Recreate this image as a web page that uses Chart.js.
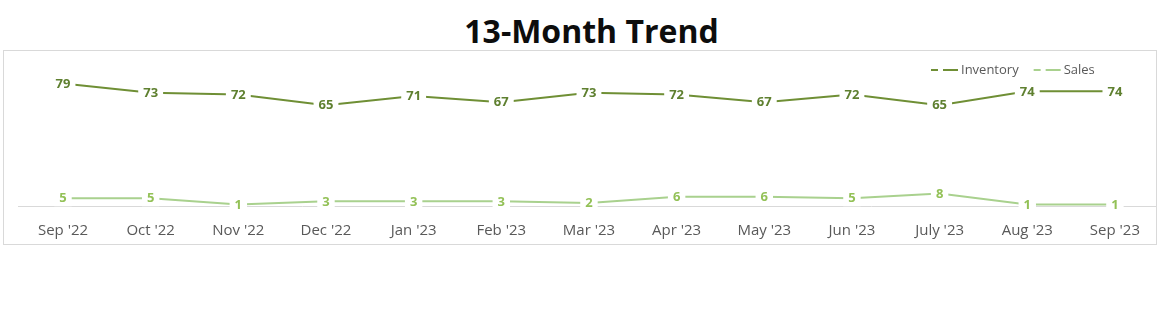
<!DOCTYPE html>
<html>
<head>
<meta charset="utf-8">
<script src="https://cdn.jsdelivr.net/npm/chart.js@4.4.0/dist/chart.umd.min.js"></script>
<style>
  html, body { margin: 0; padding: 0; background: #fff; }
  body { width: 1157px; height: 321px; position: relative; overflow: hidden; }
  #title {
    position: absolute; left: 26px; width: 1131px; top: 11px;
    text-align: center; font-family: "Open Sans", sans-serif; font-weight: 700;
    font-size: 32px; line-height: 40px; color: #0d0d0d;
  }
  #box {
    position: absolute; left: 3px; top: 50px; width: 1152px; height: 193px;
    border: 1px solid #d9d9d9; overflow: hidden;
  }
</style>
</head>
<body>
<div id="title">13-Month Trend</div>
<div id="box"><canvas id="c" width="1152" height="205"></canvas></div>
<script>
// month labels along the bottom
const months = ["Sep '22", "Oct '22", "Nov '22", "Dec '22", "Jan '23", "Feb '23", "Mar '23",
  "Apr '23", "May '23", "Jun '23", "July '23", "Aug '23", "Sep '23"];
const inventory = [79, 73, 72, 65, 71, 67, 73, 72, 67, 72, 65, 74, 74];
const sales = [5, 5, 1, 3, 3, 3, 2, 6, 6, 5, 8, 1, 1];

const FONT = "'Open Sans', sans-serif";
const INV = "#6f8f35";
const INV_LBL = "#5f8030";
const SAL = "#a9d18e";
const SAL_LBL = "#93c157";

// Excel-style value labels: text on a white patch that breaks the line
const valueLabels = {
  id: "valueLabels",
  afterDatasetsDraw(chart) {
    const ctx = chart.ctx;
    ctx.save();
    ctx.font = "700 13px " + FONT;
    ctx.textAlign = "center";
    ctx.textBaseline = "middle";
    chart.data.datasets.forEach((ds, i) => {
      chart.getDatasetMeta(i).data.forEach((pt, j) => {
        const txt = String(ds.data[j]);
        const w = ctx.measureText(txt).width + 10;
        ctx.fillStyle = "#fff";
        ctx.fillRect(pt.x - w / 2, pt.y - 8, w, 16);
        ctx.fillStyle = ds.labelColor;
        ctx.fillText(txt, pt.x, pt.y + 0.5);
      });
    });
    ctx.restore();
  },
};

// baseline across the whole plot + legend in the top right corner
const extras = {
  id: "extras",
  beforeDatasetsDraw(chart) {
    const ctx = chart.ctx;
    const y0 = chart.scales.y.getPixelForValue(0);
    ctx.save();
    ctx.strokeStyle = "#d9d9d9";
    ctx.lineWidth = 1;
    ctx.beginPath();
    ctx.moveTo(14, Math.round(y0) + 0.5);
    ctx.lineTo(chart.width, Math.round(y0) + 0.5);
    ctx.stroke();
    ctx.restore();
  },
  afterDraw(chart) {
    const ctx = chart.ctx;
    ctx.save();
    ctx.font = "13px " + FONT;
    ctx.textBaseline = "middle";
    let x = 927;
    const y = 19;
    chart.data.datasets.forEach((ds) => {
      ctx.strokeStyle = ds.borderColor;
      ctx.lineWidth = 2;
      ctx.beginPath();
      ctx.moveTo(x, y); ctx.lineTo(x + 7, y);
      ctx.moveTo(x + 12, y); ctx.lineTo(x + 27, y);
      ctx.stroke();
      ctx.fillStyle = "#595959";
      ctx.fillText(ds.label, x + 30, y);
      x += 30 + ctx.measureText(ds.label).width + 15;
    });
    ctx.restore();
  },
};

new Chart(document.getElementById("c"), {
  type: "line",
  data: {
    labels: months,
    datasets: [
      { label: "Inventory", data: inventory, borderColor: INV, backgroundColor: INV, labelColor: INV_LBL },
      { label: "Sales", data: sales, borderColor: SAL, backgroundColor: SAL, labelColor: SAL_LBL },
    ],
  },
  options: {
    responsive: false,
    animation: false,
    layout: { padding: { left: 59, right: 31, top: 0, bottom: 0 } },
    elements: {
      line: { borderWidth: 2, tension: 0 },
      point: { radius: 0, hoverRadius: 0 },
    },
    plugins: { legend: { display: false }, tooltip: { enabled: false } },
    scales: {
      x: {
        offset: false,
        grid: { display: false, drawTicks: false },
        border: { display: false },
        ticks: { color: "#595959", font: { family: FONT, size: 15 }, padding: 16, maxRotation: 0, autoSkip: false },
      },
      y: { display: false, min: 0, max: 100 },
    },
  },
  plugins: [extras, valueLabels],
});
</script>
</body>
</html>
